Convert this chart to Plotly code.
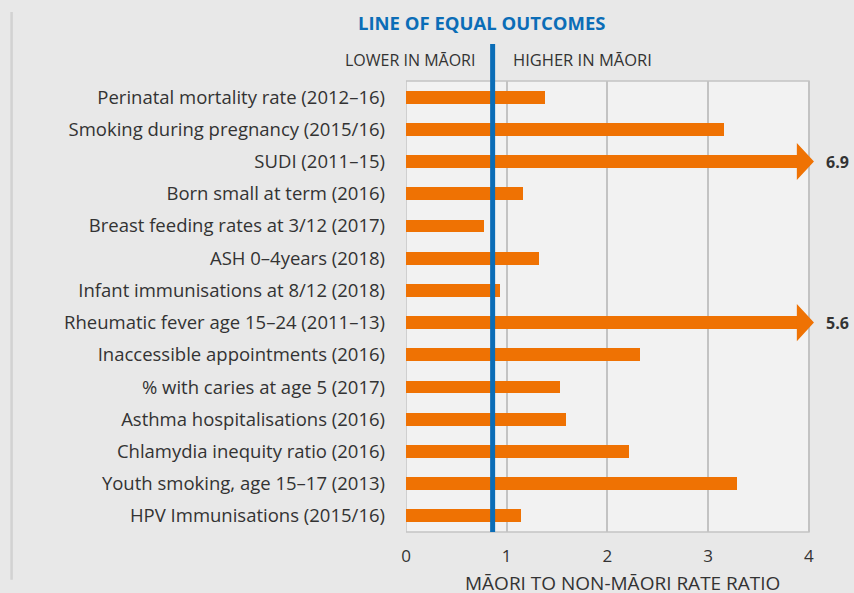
import plotly.graph_objects as go

# indicators, top to bottom
labels = [
    "Perinatal mortality rate (2012–16)",
    "Smoking during pregnancy (2015/16)",
    "SUDI (2011–15)",
    "Born small at term (2016)",
    "Breast feeding rates at 3/12 (2017)",
    "ASH 0–4years (2018)",
    "Infant immunisations at 8/12 (2018)",
    "Rheumatic fever age 15–24 (2011–13)",
    "Inaccessible appointments (2016)",
    "% with caries at age 5 (2017)",
    "Asthma hospitalisations (2016)",
    "Chlamydia inequity ratio (2016)",
    "Youth smoking, age 15–17 (2013)",
    "HPV Immunisations (2015/16)",
]
ratios = [1.38, 3.16, 6.9, 1.16, 0.77, 1.32, 0.93, 5.6, 2.32, 1.53, 1.59, 2.21, 3.29, 1.14]
x_ticks = [0, 1, 2, 3, 4]
equal_line = 0.86

ORANGE = "#ef7203"
BLUE = "#0b6db7"
GRID = "#c3c3c3"
TEXT = "#333333"
FONT = "Open Sans"

x_max = 4
cap = 3.88        # where the arrow shaft stops for off-scale values
head_len = 0.17
head_half = 0.575

pos = list(range(len(labels)))
shown = [min(v, cap) for v in ratios]

fig = go.Figure()
fig.add_trace(go.Bar(
    x=shown, y=pos, orientation="h", width=0.4,
    marker=dict(color=ORANGE, line_width=0), hoverinfo="skip",
))

# arrow heads for the values that run off the scale
ax, ay = [], []
for i, v in enumerate(ratios):
    if v > x_max:
        ax += [cap, cap, cap + head_len, cap, None]
        ay += [i - head_half, i + head_half, i, i - head_half, None]
        fig.add_annotation(x=x_max + 0.1, y=i, xref="x", yref="y", text=f"<b>{v}</b>",
                           showarrow=False, xanchor="left", xshift=5,
                           font=dict(family=FONT, size=16, color=TEXT))
fig.add_trace(go.Scatter(x=ax, y=ay, fill="toself", fillcolor=ORANGE, mode="lines",
                         line=dict(width=0, color=ORANGE), hoverinfo="skip"))

# plot box, drawn only up to 4
fig.add_shape(type="rect", xref="x", yref="paper", x0=0, x1=x_max, y0=0, y1=1,
              fillcolor="#f2f2f2", line=dict(color=GRID, width=1.5), layer="below")

# line of equal outcomes
fig.add_shape(type="line", xref="x", yref="paper", x0=equal_line, x1=equal_line,
              y0=0, y1=1.082, line=dict(color=BLUE, width=5), layer="above")

# left rule
fig.add_shape(type="line", xref="paper", yref="paper", x0=-0.955, x1=-0.955,
              y0=-0.106, y1=1.153, line=dict(color="#d2d2d2", width=2.5))

fig.add_annotation(x=0.745, y=1.129, xref="x", yref="paper", text="<b>LINE OF EQUAL OUTCOMES</b>",
                   showarrow=False, xanchor="center", yanchor="middle",
                   font=dict(family=FONT, size=18.5, color=BLUE))
fig.add_annotation(x=equal_line, y=1.047, xref="x", yref="paper", text="LOWER IN MĀORI",
                   showarrow=False, xanchor="right", yanchor="middle", xshift=-16,
                   font=dict(family=FONT, size=16, color=TEXT))
fig.add_annotation(x=equal_line, y=1.047, xref="x", yref="paper", text="HIGHER IN MĀORI",
                   showarrow=False, xanchor="left", yanchor="middle", xshift=18,
                   font=dict(family=FONT, size=16.5, color=TEXT))
fig.add_annotation(x=2, y=-0.079, xref="x", yref="paper", text="MĀORI TO NON-MĀORI RATE RATIO",
                   showarrow=False, xanchor="center", yanchor="top", xshift=15,
                   font=dict(family=FONT, size=19, color=TEXT))

fig.update_xaxes(range=[0, x_max + 0.1], tickvals=x_ticks, showgrid=True, gridcolor=GRID,
                 gridwidth=1.5, zeroline=False, showline=False, ticks="", ticklabelstandoff=12,
                 tickfont=dict(family=FONT, size=17, color=TEXT), fixedrange=True)
fig.update_yaxes(range=[len(labels) - 0.5, -0.5], tickvals=pos, ticktext=labels,
                 showgrid=False, zeroline=False, showline=False, ticks="", ticklabelstandoff=20,
                 tickfont=dict(family=FONT, size=18.5, color=TEXT), fixedrange=True)

fig.update_layout(
    width=854, height=593,
    margin=dict(l=406, r=35, t=81, b=61),
    paper_bgcolor="#e8e8e8", plot_bgcolor="rgba(0,0,0,0)",
    showlegend=False, bargap=0,
    font=dict(family=FONT, color=TEXT),
)

fig.write_html("out.html", config={"displayModeBar": False},
               post_script="document.body.style.margin='0px';")
